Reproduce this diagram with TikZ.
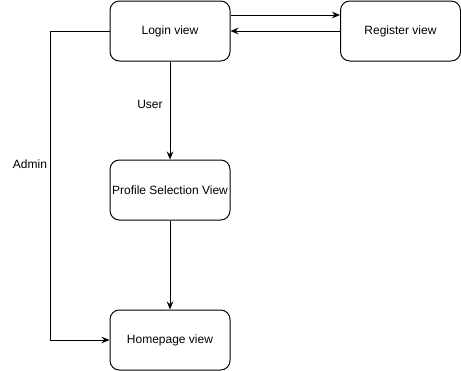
\documentclass[tikz,border=0pt]{standalone}
\usepackage{fontspec}
\setmainfont{Liberation Sans}
\usepackage{tikz}
\usetikzlibrary{shapes.geometric, arrows.meta}

\tikzset{view/.style={draw, rounded corners=7pt, minimum width=90pt, minimum height=45pt, inner xsep=1pt, line width=0.75pt, font=\fontsize{9}{11}\selectfont},
  flow/.style={-{Stealth[length=6pt,width=5pt]}, line width=0.75pt},
  tag/.style={font=\fontsize{9}{11}\selectfont}}

\begin{document}
\begin{tikzpicture}[x=0.75pt,y=-0.75pt]
\useasboundingbox (0,0) rectangle (461,371);
\node[view] (login) at (170,31) {Login view};
\node[view] (register) at (400.5,31) {Register view};
\node[view] (profile) at (170,190) {Profile Selection View};
\node[view] (home) at (170,340) {Homepage view};
\coordinate (adminturn) at (50,31);
\coordinate (adminbot) at (50,340);
\draw[flow] (login.east |- 0,15) -- (register.west |- 0,15);
\draw[flow] (register.west) -- (login.east);
\draw[flow] (login) -- (profile);
\draw[flow] (profile) -- (home);
\draw[flow] (login.west) -- (adminturn) -- (adminbot) -- (home.west);
\node[tag] (user) at (150,104) {User};
\node[tag] (admin) at (30,164) {Admin};
\end{tikzpicture}
\end{document}
